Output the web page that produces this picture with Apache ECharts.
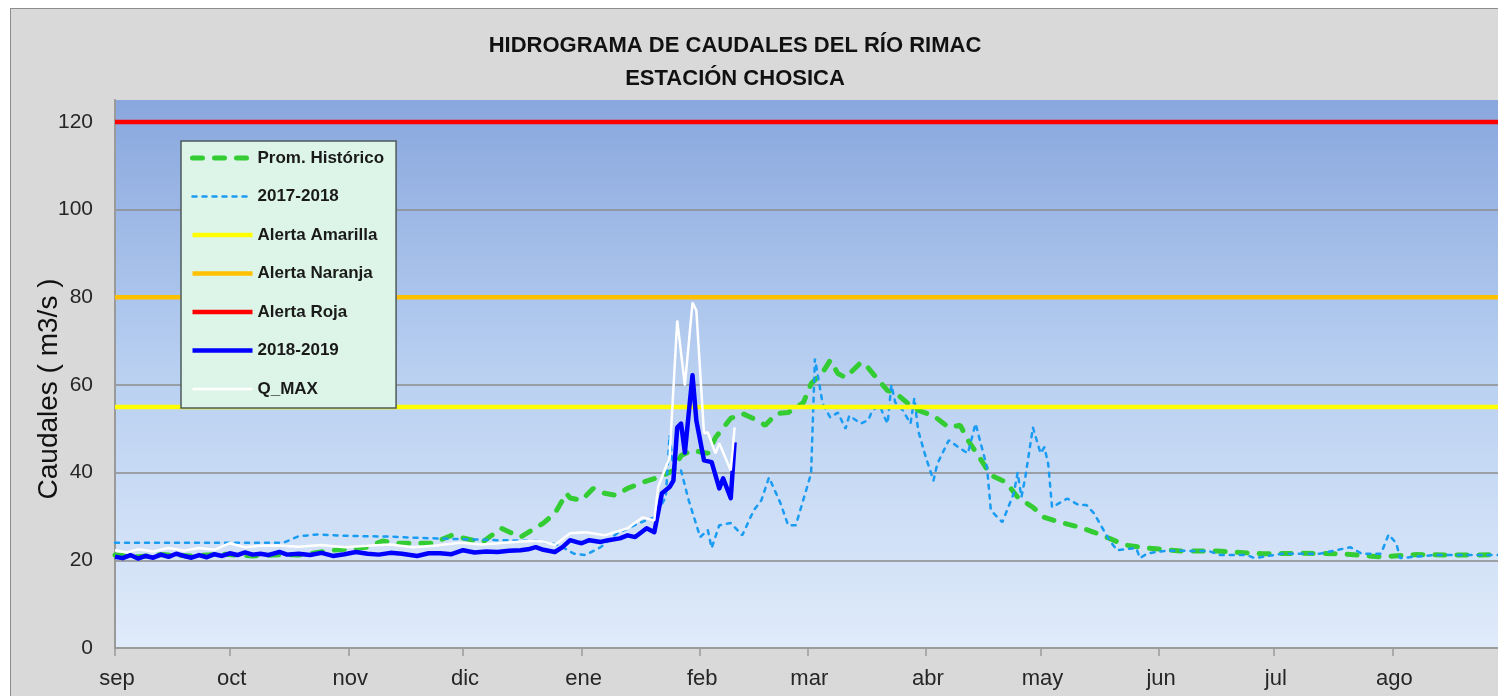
<!DOCTYPE html>
<html>
<head>
<meta charset="utf-8">
<script src="https://cdn.jsdelivr.net/npm/echarts@6/dist/echarts.min.js"></script>
<style>
  html, body { margin: 0; padding: 0; background: #ffffff; overflow: hidden; width: 1498px; height: 696px; }
  #frame { position: absolute; left: 10px; top: 8px; width: 1500px; height: 700px; background: #d9d9d9;
           border-left: 1.5px solid #8c8c8c; border-top: 1.5px solid #8c8c8c; }
  #chart { position: absolute; left: 0; top: 0; width: 1498px; height: 696px; }
</style>
</head>
<body>
<div id="frame"></div>
<div id="chart"></div>
<script>
// ---- Data (day index from 1 Sep, value in m3/s) ----
const titleLines = ['HIDROGRAMA DE CAUDALES DEL RÍO RIMAC', 'ESTACIÓN CHOSICA'];
const yAxisName = 'Caudales ( m3/s )';
const monthLabels = ['sep', 'oct', 'nov', 'dic', 'ene', 'feb', 'mar', 'abr', 'may', 'jun', 'jul', 'ago'];
const monthStarts = [0, 30, 61, 91, 122, 153, 181, 212, 242, 273, 303, 334];
const yTicks = [0, 20, 40, 60, 80, 100, 120];

const alertaAmarilla = 55;
const alertaNaranja = 80;
const alertaRoja = 120;

const promHistorico = [
  [0,21.2],[6,20.8],[12,21.3],[20,21],[28,21.4],[36,21],[44,21.3],[48,21.2],[57,22.3],[66,23],[70,24.4],
  [74,23.9],[83,23.9],[88,25.7],[96,24.1],[101,27.3],[106,25.3],[112,28.5],[115,30.7],[117,33.7],
  [118,35.3],[119,34.2],[122,33.7],[125,36.4],[128,35.3],[131,34.8],[134,36.4],[138,37.8],[142,38.9],
  [146,40.5],[148,43.9],[151,45.1],[155,44.4],[157,48],[161,52.4],[164,53.5],[168,51.9],[170,50.8],
  [173,53.5],[176,53.7],[180,56],[182,60.3],[185,62.8],[187,65.6],[189,62.6],[191,61.7],[195,65.1],
  [196,64.9],[199,61.7],[202,58.7],[204,58.3],[207,56],[210,54.2],[214,53],[218,50.3],[221,50.8],
  [223,47.4],[226,43.5],[229,39.4],[233,37.8],[236,34.4],[240,32.1],[243,29.8],[247,28.7],[252,27.6],
  [256,26.4],[260,25],[264,23.5],[270,22.8],[279,22.1],[288,22.1],[300,21.5],[310,21.6],[320,21.5],
  [331,20.8],[340,21.3],[352,21.2],[365,21.3]
];

const serie2017 = [
  [0,24],[44,24],[48,25.5],[53,25.9],[60,25.6],[72,25.4],[80,25.1],[92,24.8],[100,24.6],[111,24.4],
  [116,23.5],[120,21.5],[123,21.2],[127,23],[131,26],[137,28.5],[141,29.8],[144,34.4],[145,48.5],
  [146,41],[148,40.5],[150,33.7],[153,25.3],[155,26.9],[156,22.8],[158,28],[161,28.5],[164,25.7],
  [167,31.4],[169,33.7],[171,38.9],[174,33],[176,28],[178,28],[182,39.8],[183,66],[184,61],[185,55.8],
  [187,52.6],[189,53.7],[191,50],[192,53],[195,51.2],[197,52],[198,54.2],[200,55.3],[201,53],[202,51.2],
  [203,60],[204,56],[206,54.2],[208,51.2],[209,57],[210,49.6],[212,43.5],[214,38.2],[215,42],[218,47.4],
  [221,45.5],[223,44.4],[225,51.2],[228,41.2],[229,31.4],[232,28.7],[235,35.3],[236,40],[237,34.4],
  [238,38.9],[240,50.3],[242,44.4],[243,45.8],[244,42],[245,32.1],[249,34.1],[252,32.6],[254,32.6],
  [256,30.7],[258,27.6],[260,24.6],[262,22.3],[267,22.8],[268,20.5],[270,21.6],[275,22.2],[286,22.1],
  [289,21.2],[296,21.2],[298,20.5],[305,21.5],[315,21.5],[323,23],[326,21.5],[331,21.5],[333,25.9],
  [335,23.9],[336,20.5],[345,21.2],[355,21.2],[365,21.2]
];

const serie2018 = [
  [0,20.8],[2,20.5],[4,21.2],[6,20.4],[8,21],[10,20.6],[12,21.3],[14,20.8],[16,21.5],[18,21],[20,20.6],
  [22,21.2],[24,20.7],[26,21.4],[28,21],[30,21.6],[32,21.2],[34,21.8],[36,21.3],[38,21.5],[40,21.2],
  [43,21.9],[45,21.3],[48,21.5],[51,21.2],[54,21.7],[57,21],[60,21.4],[63,21.9],[66,21.5],[69,21.3],
  [72,21.7],[75,21.5],[79,21],[82,21.6],[85,21.6],[88,21.4],[91,22.3],[94,21.8],[97,22],[100,21.9],
  [103,22.2],[106,22.3],[108,22.5],[110,23],[112,22.4],[115,21.9],[117,23],[119,24.6],[121,24.1],
  [122,23.9],[124,24.6],[127,24.2],[129,24.6],[132,25],[134,25.7],[136,25.3],[139,27.3],[141,26.4],
  [143,35.3],[145,36.7],[146,38.2],[147,50.3],[148,51.2],[149,44.6],[151,62.2],[152,51.9],[154,42.8],
  [156,42.4],[158,36.4],[159,38.7],[161,34.2],[162,46.9]
];

const qMax = [
  [0,22.3],[3,21.8],[6,22.5],[10,22],[14,22.8],[18,22.2],[22,22.8],[26,22.4],[30,23.9],[34,23],
  [38,23.3],[43,23.4],[48,23.1],[54,23.5],[60,23],[66,23.3],[72,23.6],[78,23],[84,23.4],[90,24],
  [96,23.6],[102,24],[108,24.4],[112,24.3],[115,23.5],[119,26.2],[123,26.4],[128,25.7],[134,27.3],
  [138,29.8],[141,29.1],[142,36.7],[145,43.5],[147,74.7],[149,59.9],[151,78.8],[152,77],[154,49],
  [155,49.2],[157,44.4],[158,46.7],[161,40.5],[162,50.3]
];

const seriesNames = ['Prom. Histórico', '2017-2018', 'Alerta Amarilla', 'Alerta Naranja', 'Alerta Roja', '2018-2019', 'Q_MAX'];

// ---- Chart ----
const FONT = 'Liberation Sans, Arial, sans-serif';
const chart = echarts.init(document.getElementById('chart'), null, { renderer: 'canvas' });
const flat = v => [[0, v], [365, v]];

chart.setOption({
  backgroundColor: 'transparent',
  animation: false,
  title: {
    text: titleLines.join('\n'),
    left: 735,
    textAlign: 'center',
    top: 29,
    padding: 0,
    textStyle: { fontFamily: FONT, fontSize: 22, fontWeight: 'bold', color: '#111', lineHeight: 33 }
  },
  legend: {
    data: seriesNames,
    orient: 'vertical',
    left: 181,
    top: 141,
    itemWidth: 60,
    itemHeight: 17,
    itemGap: 21.5,
    padding: [8.5, 12, 10.5, 9],
    backgroundColor: '#dcf5e8',
    borderColor: '#4d5b5b',
    borderWidth: 1.5,
    borderRadius: 0,
    selectedMode: false,
    itemStyle: { opacity: 0 },
    lineStyle: { width: 'inherit' },
    textStyle: { fontFamily: FONT, fontSize: 17, fontWeight: 'bold', color: '#1a1a1a' }
  },
  grid: {
    left: 115, width: 1396, top: 100, height: 548,
    outerBoundsMode: 'none',
    show: true, borderWidth: 0,
    backgroundColor: new echarts.graphic.LinearGradient(0, 0, 0, 1, [
      { offset: 0, color: '#89a7de' },
      { offset: 0.5, color: '#b9d0f1' },
      { offset: 1, color: '#e0ebfa' }
    ])
  },
  xAxis: {
    type: 'value', min: 0, max: 365,
    axisLine: { show: true, lineStyle: { color: '#9a9a9a', width: 2 } },
    axisTick: { show: true, customValues: monthStarts, length: 8, lineStyle: { color: '#9a9a9a', width: 1.5 } },
    axisLabel: {
      customValues: monthStarts,
      formatter: v => monthLabels[monthStarts.indexOf(v)] || '',
      margin: 20, fontFamily: FONT, fontSize: 22, color: '#262626', padding: [0, 0, 0, 4]
    },
    splitLine: { show: false }
  },
  yAxis: {
    type: 'value', min: 0, max: 125, interval: 20,
    name: yAxisName,
    nameLocation: 'middle',
    nameRotate: 90,
    nameGap: 52,
    nameMoveOverlap: false,
    nameTextStyle: { fontFamily: FONT, fontSize: 28, color: '#111', padding: [0, 30, 0, 0] },
    axisLine: { show: true, lineStyle: { color: '#9a9a9a', width: 2 } },
    axisTick: { show: false },
    axisLabel: {
      customValues: yTicks,
      margin: 22, fontFamily: FONT, fontSize: 21, color: '#262626'
    },
    splitLine: { show: true, showMaxLine: false, lineStyle: { color: '#8c8c8c', width: 1.5 } }
  },
  series: [
    { name: seriesNames[0], type: 'line', data: promHistorico, symbol: 'none',
      lineStyle: { color: '#33cc33', width: 5, type: [10, 12], cap: 'round' }, itemStyle: { color: '#33cc33' } },
    { name: seriesNames[1], type: 'line', data: serie2017, symbol: 'none',
      lineStyle: { color: '#1a9cf2', width: 2.5, type: [4, 6], cap: 'round' }, itemStyle: { color: '#1a9cf2' } },
    { name: seriesNames[2], type: 'line', data: flat(alertaAmarilla), symbol: 'none',
      lineStyle: { color: '#ffff00', width: 4.5 }, itemStyle: { color: '#ffff00' } },
    { name: seriesNames[3], type: 'line', data: flat(alertaNaranja), symbol: 'none',
      lineStyle: { color: '#ffc000', width: 4.5 }, itemStyle: { color: '#ffc000' } },
    { name: seriesNames[4], type: 'line', data: flat(alertaRoja), symbol: 'none',
      lineStyle: { color: '#ff0000', width: 4.5 }, itemStyle: { color: '#ff0000' } },
    { name: seriesNames[5], type: 'line', data: serie2018, symbol: 'none',
      lineStyle: { color: '#0000ff', width: 4.5, join: 'round' }, itemStyle: { color: '#0000ff' } },
    { name: seriesNames[6], type: 'line', data: qMax, symbol: 'none',
      lineStyle: { color: '#ffffff', width: 2.5 }, itemStyle: { color: '#ffffff' } }
  ]
});
</script>
</body>
</html>
